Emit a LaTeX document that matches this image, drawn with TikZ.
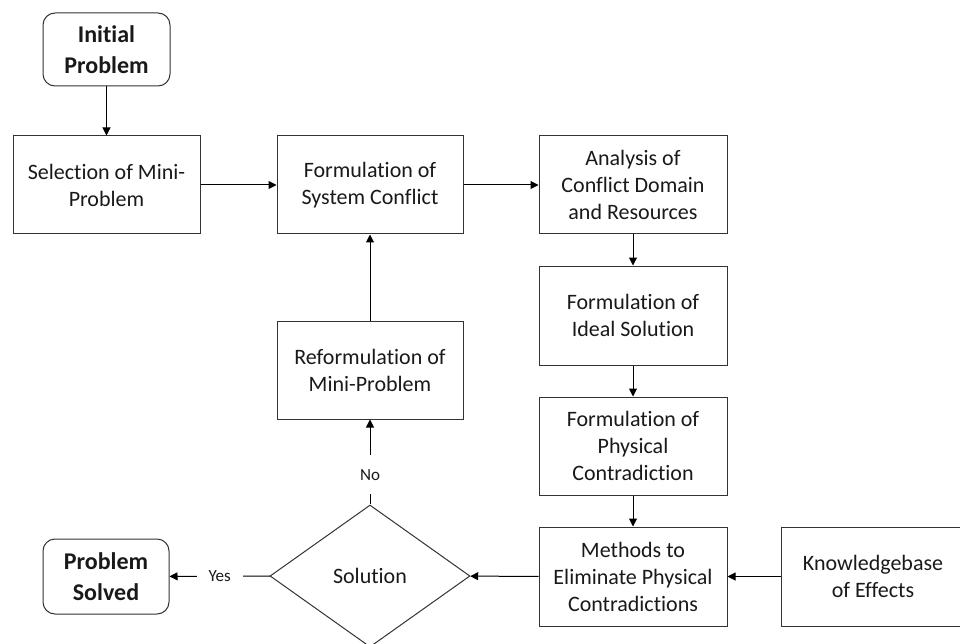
\documentclass[tikz,border=0pt]{standalone}
\usepackage{fontspec}
\setmainfont{Carlito}[Ligatures=NoCommon]
\usetikzlibrary{shapes.geometric,arrows.meta}

\begin{document}
\begin{tikzpicture}[x=1pt,y=-1pt,
  every node/.style={text=black!90},
  box/.style={draw=black!80,line width=1pt,inner sep=0pt,align=center,
    font=\fontsize{22}{27}\selectfont},
  terminal/.style={box,rounded corners=12pt,font=\bfseries\fontsize{24}{31}\selectfont},
  decision/.style={draw=black!80,line width=1pt,diamond,inner sep=0pt,
    aspect=1.41,minimum width=200pt,minimum height=142pt,
    font=\fontsize{22}{27}\selectfont},
  flow/.style={draw=black,line width=1pt,-{Triangle[length=8pt,width=8pt]}},
  tag/.style={fill=white,font=\fontsize{17}{19}\selectfont}
]
\useasboundingbox (0,0) rectangle (960,644);
\clip (0,0) rectangle (960,644);

% start and end terminals
\node[terminal,minimum width=127pt,minimum height=73pt] (init) at (106.5,49.5) {Initial\\Problem};
\node[terminal,minimum width=126pt,minimum height=75pt] (solved) at (106,576.5) {Problem\\Solved};

% process steps
\node[box,minimum width=187pt,minimum height=98pt] (sel) at (106.5,185) {Selection of Mini-\\Problem};
\node[box,minimum width=186pt,minimum height=98pt] (sys) at (370,185) {Formulation of\\System Conflict};
\node[box,minimum width=188pt,minimum height=98pt] (ana) at (633,185) {Analysis of\\Conflict Domain\\and Resources};
\node[box,minimum width=188pt,minimum height=99pt] (ideal) at (633,315.5) {Formulation of\\Ideal Solution};
\node[box,minimum width=188pt,minimum height=98pt] (phys) at (633,446) {Formulation of\\Physical\\Contradiction};
\node[box,minimum width=188pt,minimum height=99pt] (meth) at (633,576.5) {Methods to\\Eliminate Physical\\Contradictions};
\node[box,minimum width=184pt,minimum height=99pt] (know) at (873,576.5) {Knowledgebase\\of Effects};
\node[box,minimum width=186pt,minimum height=98pt] (reform) at (370,370) {Reformulation of\\Mini-Problem};

% decision
\node[decision] (sol) at (370,576) {Solution};

% connectors
\draw[flow] (init) -- (sel);
\draw[flow] (sel) -- (sys);
\draw[flow] (sys) -- (ana);
\draw[flow] (ana) -- (ideal);
\draw[flow] (ideal) -- (phys);
\draw[flow] (phys) -- (meth);
\draw[flow] (know) -- (meth);
\draw[flow] (meth) -- (sol);
\draw[flow] (sol) -- node[tag,inner xsep=12pt,inner ysep=2pt] {Yes} (solved);
\draw[flow] (sol) -- node[tag,pos=0.35,inner xsep=2pt,inner ysep=14pt] {No} (reform);
\draw[flow] (reform) -- (sys);
\end{tikzpicture}
\end{document}
